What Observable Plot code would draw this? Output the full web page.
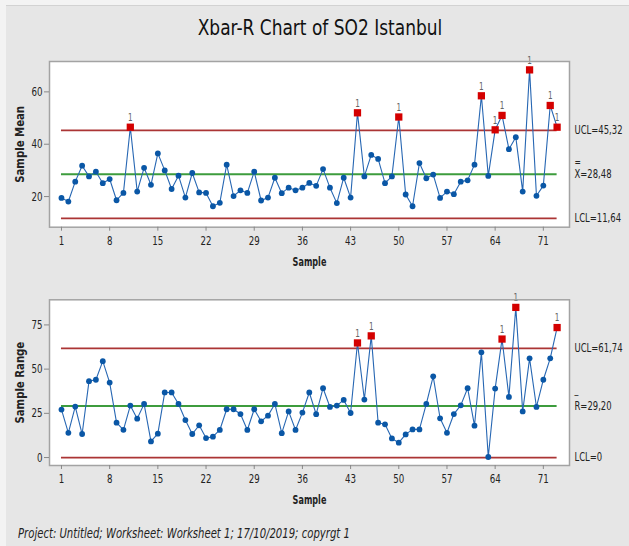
<!DOCTYPE html>
<html><head><meta charset="utf-8">
<script src="https://cdn.jsdelivr.net/npm/d3@7"></script>
<script src="https://cdn.jsdelivr.net/npm/@observablehq/plot@0.6"></script>
<style>
body{margin:0;background:#f3f3f3;}
#wrap{position:relative;width:629px;height:546px;overflow:hidden;font-family:"DejaVu Sans Condensed","DejaVu Sans",sans-serif;}
#bg{position:absolute;left:6px;top:5px;right:0;bottom:0;background:#e6e6e6;border-top:1px solid #d2d2d2;}
#title{position:absolute;left:0;width:640px;top:15px;text-align:center;font-size:22px;color:#111;transform:scaleX(0.86);transform-origin:320px 0;}
#foot{position:absolute;left:18px;top:525px;font-size:13.5px;font-style:italic;color:#222;white-space:nowrap;transform:scaleX(0.83);transform-origin:0 0;}
.p{position:absolute;left:0;}
</style></head>
<body><div id="wrap"><div id="bg"></div><div id="title">Xbar-R Chart of SO2 Istanbul</div><div id="p1" class="p" style="top:0"></div><div id="p2" class="p" style="top:280px"></div><div id="foot">Project: Untitled; Worksheet: Worksheet 1; 17/10/2019; copyrgt 1</div></div>
<script>
const sampleMean = [19.5,18.1,25.7,31.8,27.7,29.5,25.1,26.7,18.6,21.4,
46.5,21.9,31.0,24.5,36.5,30.0,22.9,28.0,19.6,29.0,
21.6,21.4,16.3,17.6,32.2,20.2,22.4,21.4,29.5,18.5,
19.6,27.2,21.3,23.4,22.4,23.4,25.2,24.1,30.5,23.4,
17.5,27.2,19.6,52.0,27.7,35.9,34.4,25.1,27.7,50.4,
20.8,16.3,32.8,27.0,28.4,19.5,21.9,20.9,25.7,26.2,
32.2,58.5,27.9,45.5,51.0,38.1,42.7,21.9,68.4,20.3,
24.2,54.8,46.5];
const sampleRange = [27.1,14.0,28.8,13.3,43.2,44.0,54.5,42.4,19.7,15.7,
29.4,22.0,30.3,9.1,13.5,36.8,36.8,30.3,21.2,13.3,
18.2,11.0,11.8,15.6,27.3,27.3,24.6,15.6,27.3,20.5,
23.7,30.3,13.8,26.1,15.6,25.4,36.8,24.5,39.2,28.6,
29.4,32.6,25.2,64.8,32.8,68.8,19.7,18.8,10.8,8.4,
13.1,15.9,15.9,30.3,45.9,22.2,14.0,24.6,29.5,39.2,
18.0,59.5,0.3,39.0,67.0,34.3,84.9,26.1,56.1,28.6,
44.0,56.1,73.5];
const xTicks = [1,8,15,22,29,36,43,50,57,64,71];
const meanTicks = [20,40,60];
const rangeTicks = [0,25,50,75];
const meanLimits = {ucl:45.32, cl:28.48, lcl:11.64, uclText:"UCL=45,32", clText:"X=28,48", clBar:"=", lclText:"LCL=11,64"};
const rangeLimits = {ucl:61.74, cl:29.20, lcl:0, uclText:"UCL=61,74", clText:"R=29,20", clBar:"_", lclText:"LCL=0"};

const FONT = '"DejaVu Sans Condensed","DejaVu Sans",sans-serif';

function squeeze(svg) {
  svg.querySelectorAll("text").forEach(t => {
    const tr = t.getAttribute("transform");
    if (!tr) return;
    const g = t.closest("[font-weight]");
    const bold = g && g.getAttribute("font-weight") === "bold";
    const k = tr.includes("rotate") ? 0.94 : bold ? 0.72 : 0.77;
    t.setAttribute("transform", tr + ` scale(${k},1)`);
  });
  return svg;
}

function chart(values, lim, opts) {
  const data = values.map((v,i)=>({s:i+1, v}));
  const out = data.filter(d=>d.v>lim.ucl || d.v<lim.lcl);
  const inn = data.filter(d=>!(d.v>lim.ucl || d.v<lim.lcl));
  const n = values.length;
  return squeeze(Plot.plot({
    width:629, height:opts.height,
    marginLeft:49, marginRight:60, marginTop:opts.mt, marginBottom:opts.mb,
    style:{background:"transparent", fontFamily:FONT, fontSize:"12.5px", color:"#222", overflow:"visible"},
    x:{domain:[-0.74,74.8]},
    y:{domain:opts.ydomain},
    marks:[
      Plot.frame({fill:"white", stroke:"none"}),
      Plot.ruleY([lim.ucl, lim.lcl], {x1:1, x2:n, stroke:"#ab3535", strokeWidth:1.7}),
      Plot.ruleY([lim.cl], {x1:1, x2:n, stroke:"#3d9c3d", strokeWidth:2}),
      Plot.line(data, {x:"s", y:"v", stroke:"#2767b3", strokeWidth:1.1}),
      Plot.dot(inn, {x:"s", y:"v", r:2.9, fill:"#0a57a6"}),
      Plot.dot(out, {x:"s", y:"v", r:4.1, symbol:"square", fill:"#d40000"}),
      Plot.text(out, {x:"s", y:"v", text:()=>"1", dy:-9.5, fill:"#666", fontSize:10.5}),
      Plot.frame({stroke:"#a3a3a3", strokeWidth:1.5}),
      Plot.axisY({ticks:opts.yticks, tickSize:5, tickPadding:2, stroke:"#888", label:null, tickFormat:d=>String(d)}),
      Plot.axisX({ticks:xTicks, tickSize:4, tickPadding:5, stroke:"#888", label:null, tickFormat:d=>String(d)}),
      Plot.text([opts.ylabel], {frameAnchor:"left", textAnchor:"middle", dx:-29, rotate:-90, fontWeight:"bold", fontSize:12}),
      Plot.text(["Sample"], {frameAnchor:"bottom", dy:38.5, fontWeight:"bold", fontSize:12.5}),
      Plot.text([lim.ucl], {y:d=>d, frameAnchor:"right", dx:5, textAnchor:"start", text:()=>lim.uclText, fontSize:12.2}),
      Plot.text([lim.cl], {y:d=>d, frameAnchor:"right", dx:5, textAnchor:"start", text:()=>lim.clText, fontSize:12.2}),
      Plot.text([lim.cl], {y:d=>d, frameAnchor:"right", dx:5, dy:opts.bardy, textAnchor:"start", text:()=>lim.clBar, fontSize:11}),
      Plot.text([lim.lcl], {y:d=>d, frameAnchor:"right", dx:5, textAnchor:"start", text:()=>lim.lclText, fontSize:12.2})
    ]
  }));
}

document.getElementById("p1").append(chart(sampleMean, meanLimits, {height:280, mt:61, mb:53.3, ydomain:[8.3,71.6], yticks:meanTicks, ylabel:"Sample Mean", bardy:-12}));
document.getElementById("p2").append(chart(sampleRange, rangeLimits, {height:230, mt:19.3, mb:45, ydomain:[-4.5,89.2], yticks:rangeTicks, ylabel:"Sample Range", bardy:-16.5}));
</script>
</body></html>
